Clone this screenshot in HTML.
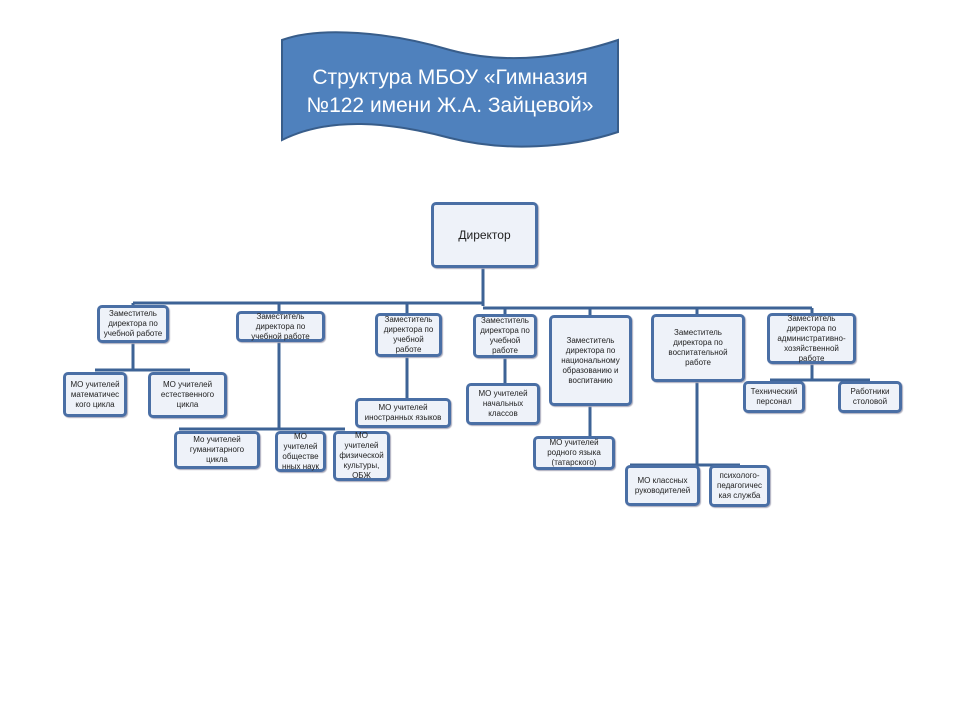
<!DOCTYPE html>
<html><head><meta charset="utf-8"><style>
body{margin:0;background:#fff;width:960px;height:720px;position:relative;overflow:hidden;font-family:"Liberation Sans","DejaVu Sans",sans-serif}
.b{position:absolute;box-sizing:border-box;border:3px solid #4a6fa5;border-radius:5px;background:#eef2f9;color:#222;font-size:8px;line-height:10px;text-align:center;display:flex;align-items:center;justify-content:center;padding:0 2px;box-shadow:1px 1px 1px #aab}
svg{position:absolute;left:0;top:0}
</style></head><body>
<svg width="960" height="720">
<path d="M282,40 C320,26 390,32 450,50 C510,66 570,56 618,40 L618,132 C570,148 505,152 450,138 C390,122 330,116 282,140 Z" fill="#4f81bd" stroke="#385d8a" stroke-width="2"/>
<text x="450" y="84" text-anchor="middle" fill="#fff" font-size="21" font-family="Liberation Sans, DejaVu Sans, sans-serif">Структура МБОУ «Гимназия</text>
<text x="450" y="112" text-anchor="middle" fill="#fff" font-size="21" font-family="Liberation Sans, DejaVu Sans, sans-serif">№122 имени Ж.А. Зайцевой»</text>
<g stroke="#3d6396" stroke-width="3" fill="none">
<path d="M483,268 V306"/>
<path d="M133,303 H483"/>
<path d="M483,308 H812"/>
<path d="M133,303 V306 M279,303 V311 M407,303 V313 M505,308 V314 M590,308 V315 M697,308 V314 M812,308 V313"/>
<path d="M133,343 V370 M95,370 H190"/>
<path d="M279,342 V429 M179,429 H345"/>
<path d="M407,357 V398"/>
<path d="M505,358 V383"/>
<path d="M590,406 V436"/>
<path d="M697,382 V465 M630,465 H740"/>
<path d="M812,364 V380 M770,380 H870"/>
</g>
</svg>
<div class="b" style="left:431px;top:202px;width:107px;height:66px;font-size:12px">Директор</div>
<div class="b" style="left:97px;top:305px;width:72px;height:38px">Заместитель директора по учебной работе</div>
<div class="b" style="left:236px;top:311px;width:89px;height:31px">Заместитель директора по учебной работе</div>
<div class="b" style="left:375px;top:313px;width:67px;height:44px">Заместитель директора по учебной работе</div>
<div class="b" style="left:473px;top:314px;width:64px;height:44px">Заместитель директора по учебной работе</div>
<div class="b" style="left:549px;top:315px;width:83px;height:91px">Заместитель директора по национальному образованию и воспитанию</div>
<div class="b" style="left:651px;top:314px;width:94px;height:68px">Заместитель директора по воспитательной работе</div>
<div class="b" style="left:767px;top:313px;width:89px;height:51px">Заместитель директора по административно-хозяйственной работе</div>
<div class="b" style="left:63px;top:372px;width:64px;height:45px">МО учителей математичес кого цикла</div>
<div class="b" style="left:148px;top:372px;width:79px;height:46px">МО учителей естественного цикла</div>
<div class="b" style="left:174px;top:431px;width:86px;height:38px">Мо учителей гуманитарного цикла</div>
<div class="b" style="left:275px;top:431px;width:51px;height:41px">МО учителей обществе нных наук</div>
<div class="b" style="left:333px;top:431px;width:57px;height:50px">МО учителей физической культуры, ОБЖ</div>
<div class="b" style="left:355px;top:398px;width:96px;height:30px">МО учителей иностранных языков</div>
<div class="b" style="left:466px;top:383px;width:74px;height:42px">МО учителей начальных классов</div>
<div class="b" style="left:533px;top:436px;width:82px;height:34px">МО учителей родного языка (татарского)</div>
<div class="b" style="left:625px;top:465px;width:75px;height:41px">МО классных руководителей</div>
<div class="b" style="left:709px;top:465px;width:61px;height:42px">психолого-педагогичес кая служба</div>
<div class="b" style="left:743px;top:381px;width:62px;height:32px">Технический персонал</div>
<div class="b" style="left:838px;top:381px;width:64px;height:32px">Работники столовой</div>
</body></html>
